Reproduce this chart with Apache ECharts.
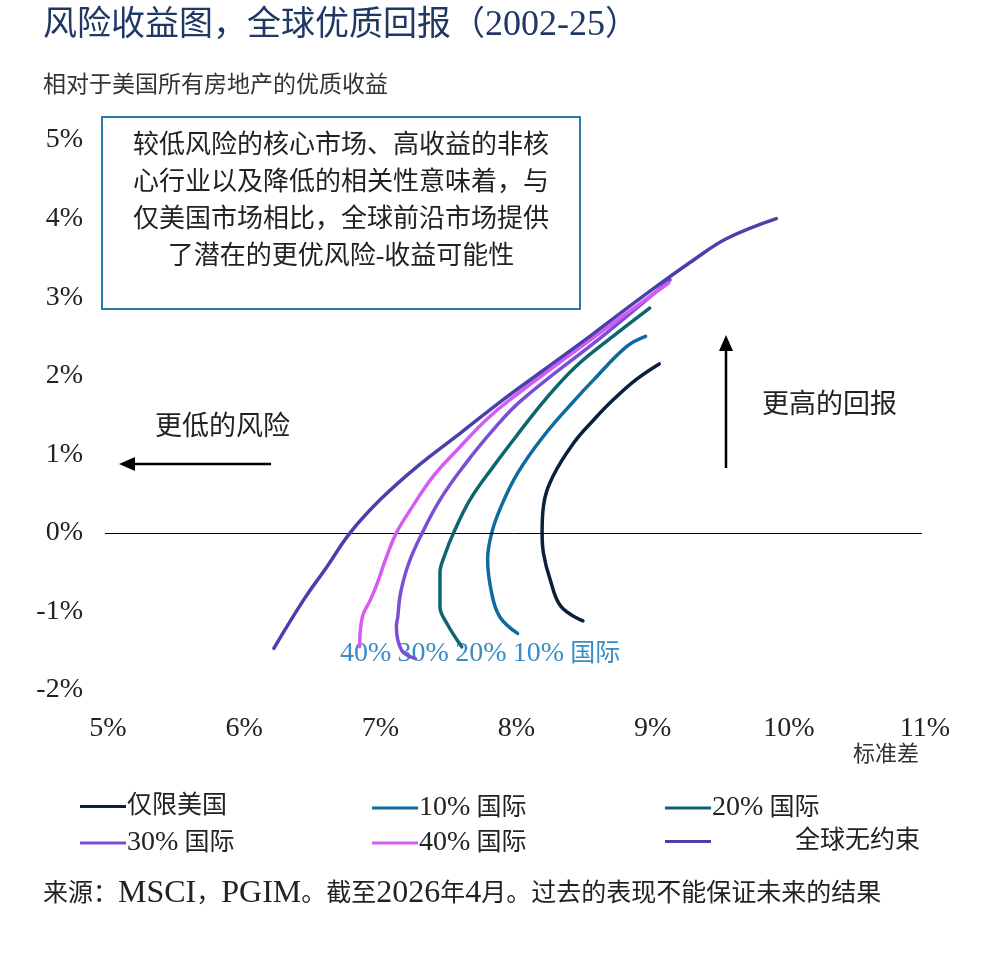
<!DOCTYPE html>
<html>
<head>
<meta charset="utf-8">
<script src="https://cdn.jsdelivr.net/npm/echarts@6/dist/echarts.min.js"></script>
<style>
  html, body { margin: 0; padding: 0; background: #fff; }
  #chart { width: 983px; height: 965px; }
</style>
</head>
<body>
<div id="chart"></div>
<script>
var FONT = "'Liberation Serif', 'Noto Sans CJK SC', serif";

// 数据: [标准差 %, 相对收益 %]
var seriesNames = ['仅限美国', '10% 国际', '20% 国际', '30% 国际', '40% 国际', '全球无约束'];
var colors = ['#0b1f3a', '#0f6aa0', '#0b6670', '#7b4ed6', '#d45cf2', '#4b3fae'];

var usOnly = [[8.51, -1.12], [8.35, -0.94], [8.27, -0.60], [8.22, -0.26], [8.21, 0], [8.22, 0.34],
  [8.29, 0.72], [8.44, 1.14], [8.59, 1.44], [8.73, 1.69], [8.90, 1.95], [9.07, 2.15]];
var intl10 = [[8.03, -1.28], [7.90, -1.07], [7.84, -0.77], [7.81, -0.34], [7.84, 0], [7.91, 0.34],
  [8.03, 0.76], [8.22, 1.23], [8.45, 1.69], [8.59, 1.95], [8.83, 2.37], [8.97, 2.50]];
var intl20 = [[7.62, -1.45], [7.51, -1.15], [7.46, -0.94], [7.46, -0.51], [7.50, -0.26], [7.56, 0],
  [7.68, 0.42], [7.85, 0.84], [8.02, 1.23], [8.23, 1.69], [8.46, 2.12], [8.73, 2.50], [9.00, 2.86]];
var intl30 = [[7.28, -1.60], [7.18, -1.50], [7.14, -1.19], [7.15, -1.07], [7.17, -0.77], [7.23, -0.39],
  [7.33, 0], [7.46, 0.42], [7.63, 0.84], [7.85, 1.31], [8.06, 1.69], [8.68, 2.54], [9.15, 3.22]];
var intl40 = [[6.87, -1.45], [6.89, -1.07], [6.95, -0.85], [7.00, -0.64], [7.06, -0.34], [7.14, 0],
  [7.26, 0.34], [7.41, 0.72], [7.61, 1.10], [7.80, 1.44], [7.97, 1.69], [8.63, 2.54], [9.14, 3.18]];
var globalFree = [[6.24, -1.47], [6.46, -0.85], [6.63, -0.43], [6.80, 0], [7.02, 0.42], [7.29, 0.84],
  [7.61, 1.27], [7.92, 1.69], [8.22, 2.07], [8.59, 2.54], [8.95, 3.01], [9.32, 3.47], [9.57, 3.75], [9.93, 4.00]];
var allData = [usOnly, intl10, intl20, intl30, intl40, globalFree];

var noteLines = ['较低风险的核心市场、高收益的非核', '心行业以及降低的相关性意味着，与',
  '仅美国市场相比，全球前沿市场提供', '了潜在的更优风险-收益可能性'];

// 拉丁字符用较大的衬线字号
function latin(str) {
  return str.replace(/[A-Za-z0-9%.\-]+/g, function (m) { return '{l|' + m + '}'; });
}
function richStyle(cjkSize, latinSize, color) {
  return {
    l: { fontFamily: 'Liberation Serif', fontSize: latinSize, color: color },
    c: { fontFamily: FONT, fontSize: cjkSize, color: color }
  };
}

var chart = echarts.init(document.getElementById('chart'));

var series = seriesNames.map(function (name, i) {
  var s = {
    name: name,
    type: 'line',
    data: allData[i],
    smooth: 0.4,
    showSymbol: false,
    z: 3 + i,
    lineStyle: { color: colors[i], width: 3.5, cap: 'round' },
    itemStyle: { color: colors[i] }
  };
  if (i === 0) {
    // 0% 基准线
    s.markLine = {
      silent: true,
      symbol: 'none',
      label: { show: false },
      lineStyle: { color: '#000', width: 1, type: 'solid' },
      data: [{ yAxis: 0 }]
    };
  }
  return s;
});

// 图例位置：3 列 × 2 行
var legendPos = [[80, 794], [372, 794], [665, 794], [80, 829], [372, 829], [665, 829]];
var legends = seriesNames.map(function (name, i) {
  var rich = richStyle(25, 28, '#222');
  rich.a = { width: 208, align: 'right', fontFamily: FONT, fontSize: 25, color: '#222' };
  return {
    data: [name],
    left: legendPos[i][0],
    top: legendPos[i][1],
    padding: 0,
    icon: 'rect',
    itemWidth: 46,
    itemHeight: 3,
    itemGap: 0,
    selectedMode: false,
    formatter: function (n) { return i === 5 ? '{a|' + n + '}' : latin(n); },
    textStyle: { fontFamily: FONT, fontSize: 25, color: '#222', padding: [0, 0, 0, -4], rich: rich }
  };
});

var option = {
  backgroundColor: '#fff',
  animation: false,
  grid: { left: 105, right: 61, top: 140, bottom: 275 },
  xAxis: {
    type: 'value',
    min: 5, max: 11, interval: 1,
    axisLine: { show: false },
    axisTick: { show: false },
    splitLine: { show: false },
    axisLabel: {
      formatter: '{value}%', margin: 25,
      fontFamily: 'Liberation Serif', fontSize: 28, color: '#222', padding: [0, 0, 0, 6]
    }
  },
  yAxis: {
    type: 'value',
    min: -2, max: 5, interval: 1,
    axisLine: { show: false },
    axisTick: { show: false },
    splitLine: { show: false },
    axisLabel: {
      formatter: '{value}%', margin: 22, padding: [4, 0, 0, 0],
      fontFamily: 'Liberation Serif', fontSize: 28, color: '#222'
    }
  },
  legend: legends,
  series: series,
  graphic: [
    { type: 'text', left: 43, top: 8,
      style: { text: latin('风险收益图，全球优质回报（2002-25）'), fontFamily: FONT, fontSize: 34, fill: '#1f3864',
        rich: richStyle(34, 36, '#1f3864') } },
    { type: 'text', left: 43, top: 74,
      style: { text: '相对于美国所有房地产的优质收益', fontFamily: FONT, fontSize: 23, fill: '#333' } },
    { type: 'rect', shape: { x: 102, y: 117, width: 478, height: 192 },
      style: { fill: '#fff', stroke: '#2a7aa8', lineWidth: 2 }, z: 10 },
    { type: 'text', x: 341, y: 128, z: 11,
      style: { text: latin(noteLines.join('\n')), fontFamily: FONT, fontSize: 26, lineHeight: 37,
        fill: '#222', align: 'center', rich: {
          l: { fontFamily: 'Liberation Serif', fontSize: 26, lineHeight: 37, color: '#222' } } } },
    { type: 'text', x: 762, y: 392,
      style: { text: '更高的回报', fontFamily: FONT, fontSize: 27, fill: '#222' } },
    { type: 'text', x: 155, y: 414,
      style: { text: '更低的风险', fontFamily: FONT, fontSize: 27, fill: '#222' } },
    { type: 'line', shape: { x1: 726, y1: 468, x2: 726, y2: 348 },
      style: { stroke: '#000', lineWidth: 2.5 } },
    { type: 'polygon', shape: { points: [[726, 335], [719, 351], [733, 351]] }, style: { fill: '#000' } },
    { type: 'line', shape: { x1: 271, y1: 464, x2: 132, y2: 464 },
      style: { stroke: '#000', lineWidth: 2.5 } },
    { type: 'polygon', shape: { points: [[119, 464], [135, 457], [135, 471]] }, style: { fill: '#000' } },
    { type: 'text', x: 340, y: 640,
      style: { text: latin('40% 30% 20% 10% 国际'), fontFamily: FONT, fontSize: 25, fill: '#3a8cc6',
        rich: richStyle(25, 28, '#3a8cc6') } },
    { type: 'text', x: 853, y: 744,
      style: { text: '标准差', fontFamily: FONT, fontSize: 22, fill: '#333' } },
    { type: 'text', left: 43, top: 878,
      style: { text: latin('来源：MSCI，PGIM。截至2026年4月。过去的表现不能保证未来的结果'), fontFamily: FONT,
        fontSize: 25, fill: '#222', rich: richStyle(25, 32, '#222') } }
  ]
};

chart.setOption(option);
</script>
</body>
</html>
